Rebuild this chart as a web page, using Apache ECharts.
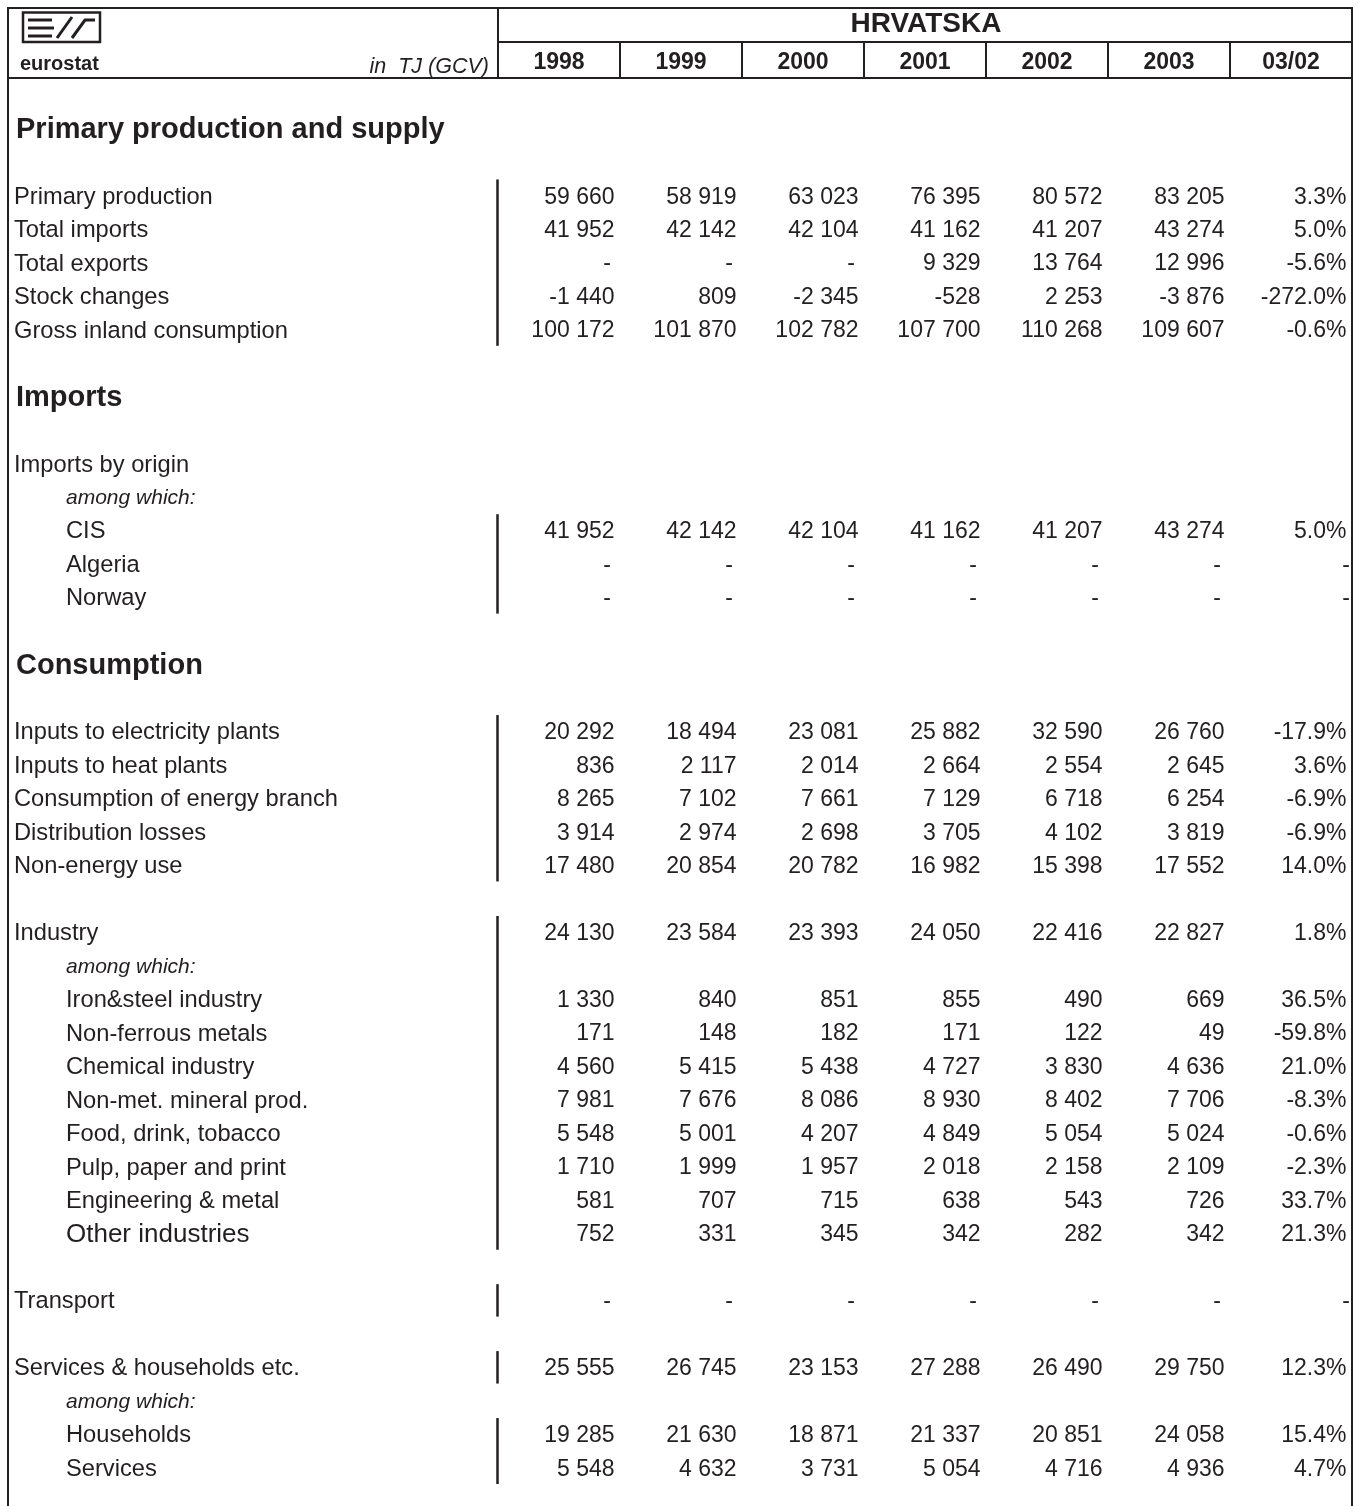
<!DOCTYPE html>
<html><head><meta charset="utf-8">
<script src="https://cdn.jsdelivr.net/npm/echarts@6/dist/echarts.min.js"></script>
<style>html,body{margin:0;padding:0;background:#fff}#c{width:1362px;height:1506px}</style>
</head><body><div id="c"></div>
<script>
// ---------------- DATA ----------------
const countryTitle = 'HRVATSKA';
const unitLabel = 'in  TJ (GCV)';
const columns = ['1998', '1999', '2000', '2001', '2002', '2003', '03/02'];

const rowLabels = [
  'Primary production and supply', '', 'Primary production', 'Total imports', 'Total exports', 'Stock changes', 'Gross inland consumption', '',
  'Imports', '', 'Imports by origin', 'among which:', 'CIS', 'Algeria', 'Norway', '',
  'Consumption', '', 'Inputs to electricity plants', 'Inputs to heat plants', 'Consumption of energy branch', 'Distribution losses', 'Non-energy use', '',
  'Industry', 'among which:', 'Iron&steel industry', 'Non-ferrous metals', 'Chemical industry', 'Non-met. mineral prod.', 'Food, drink, tobacco', 'Pulp, paper and print', 'Engineering & metal', 'Other industries', '',
  'Transport', '', 'Services & households etc.', 'among which:', 'Households', 'Services'
];

const primaryProduction  = [59660, 58919, 63023, 76395, 80572, 83205];
const totalImports       = [41952, 42142, 42104, 41162, 41207, 43274];
const totalExports       = [null, null, null, 9329, 13764, 12996];
const stockChanges       = [-1440, 809, -2345, -528, 2253, -3876];
const grossInland        = [100172, 101870, 102782, 107700, 110268, 109607];
const importsCIS         = [41952, 42142, 42104, 41162, 41207, 43274];
const importsAlgeria     = [null, null, null, null, null, null];
const importsNorway      = [null, null, null, null, null, null];
const inputsElectricity  = [20292, 18494, 23081, 25882, 32590, 26760];
const inputsHeat         = [836, 2117, 2014, 2664, 2554, 2645];
const energyBranch       = [8265, 7102, 7661, 7129, 6718, 6254];
const distributionLosses = [3914, 2974, 2698, 3705, 4102, 3819];
const nonEnergyUse       = [17480, 20854, 20782, 16982, 15398, 17552];
const industry           = [24130, 23584, 23393, 24050, 22416, 22827];
const ironSteel          = [1330, 840, 851, 855, 490, 669];
const nonFerrous         = [171, 148, 182, 171, 122, 49];
const chemical           = [4560, 5415, 5438, 4727, 3830, 4636];
const nonMetMineral      = [7981, 7676, 8086, 8930, 8402, 7706];
const foodDrink          = [5548, 5001, 4207, 4849, 5054, 5024];
const pulpPaper          = [1710, 1999, 1957, 2018, 2158, 2109];
const engineeringMetal   = [581, 707, 715, 638, 543, 726];
const otherIndustries    = [752, 331, 345, 342, 282, 342];
const transport          = [null, null, null, null, null, null];
const servicesHouseholds = [25555, 26745, 23153, 27288, 26490, 29750];
const households         = [19285, 21630, 18871, 21337, 20851, 24058];
const services           = [5548, 4632, 3731, 5054, 4716, 4936];

// 03/02 change (%), same order as dataSeries below
const change0302 = [3.3, 5.0, -5.6, -272.0, -0.6, 5.0, null, null, -17.9, 3.6, -6.9, -6.9, 14.0,
  1.8, 36.5, -59.8, 21.0, -8.3, -0.6, -2.3, 33.7, 21.3, null, 12.3, 15.4, 4.7];

const dataSeries = [primaryProduction, totalImports, totalExports, stockChanges, grossInland,
  importsCIS, importsAlgeria, importsNorway,
  inputsElectricity, inputsHeat, energyBranch, distributionLosses, nonEnergyUse,
  industry, ironSteel, nonFerrous, chemical, nonMetMineral, foodDrink, pulpPaper, engineeringMetal, otherIndustries,
  transport, servicesHouseholds, households, services];

// ---------------- LAYOUT ----------------
const dataRowIndex = [2, 3, 4, 5, 6, 12, 13, 14, 18, 19, 20, 21, 22, 24, 26, 27, 28, 29, 30, 31, 32, 33, 35, 37, 39, 40];
// 0 = plain, 1 = heading, 2 = indented, 3 = italic note, 4 = indented large
const rowLevel = rowLabels.map(function (l, i) {
  if (i === 0 || i === 8 || i === 16) return 1;
  if (l === 'among which:') return 3;
  if (l === 'Other industries') return 4;
  if ([12, 13, 14, 26, 27, 28, 29, 30, 31, 32, 39, 40].indexOf(i) >= 0) return 2;
  return 0;
});
const barSpans = [[2, 6], [12, 14], [18, 22], [24, 33], [35, 35], [37, 37], [39, 40]];

const INK = '#231f20';
const FONT = '"Liberation Sans", Arial, sans-serif';

function fmtNum(v) {
  if (v === null) return '-';
  const s = Math.abs(v).toString().replace(/\B(?=(\d{3})+(?!\d))/g, ' ');
  return (v < 0 ? '-' : '') + s;
}
function fmtPct(v) {
  if (v === null) return '-';
  return v.toFixed(1) + '%';
}

const cellData = [];
const cellTexts = [];
dataSeries.forEach(function (arr, k) {
  const r = dataRowIndex[k];
  arr.forEach(function (v, c) {
    cellData.push([c, r, v === null ? 1 : 0]);
    cellTexts.push(fmtNum(v));
  });
  const p = change0302[k];
  cellData.push([6, r, p === null ? 1 : 0]);
  cellTexts.push(fmtPct(p));
});

const labelData = [];
rowLabels.forEach(function (l, i) { if (l) labelData.push([0, i]); });

const rowIdx = rowLabels.map(function (_, i) { return String(i); });

const GRID_TOP = 113.5, GRID_H = 1372.5;

const chart = echarts.init(document.getElementById('c'), null, { renderer: 'canvas' });
chart.setOption({
  animation: false,
  backgroundColor: '#fff',
  title: {
    text: countryTitle, left: 926, top: 10, padding: 0, textAlign: 'center',
    textStyle: { fontFamily: FONT, fontSize: 28, fontWeight: 'bold', color: INK, lineHeight: 28 }
  },
  grid: [
    { left: 8, top: GRID_TOP, width: 490, height: GRID_H, show: false },
    { left: 498, top: GRID_TOP, width: 854, height: GRID_H, show: false },
    { left: 498, top: 42, width: 854, height: 36, show: true, borderColor: INK, borderWidth: 2, backgroundColor: 'transparent' }
  ],
  xAxis: [
    { gridIndex: 0, type: 'value', min: 0, max: 1, show: false },
    { gridIndex: 1, type: 'category', data: columns, show: false },
    {
      gridIndex: 2, type: 'category', data: columns, position: 'bottom',
      axisLine: { show: false }, axisTick: { show: false },
      splitLine: { show: true, interval: 0, lineStyle: { color: INK, width: 2 } },
      axisLabel: { inside: true, margin: 15, verticalAlign: 'middle', interval: 0,
        fontFamily: FONT, fontSize: 23, fontWeight: 'bold', color: INK }
    }
  ],
  yAxis: [
    { gridIndex: 0, type: 'category', data: rowIdx, inverse: true, show: false },
    { gridIndex: 1, type: 'category', data: rowIdx, inverse: true, show: false },
    { gridIndex: 2, type: 'value', show: false }
  ],
  graphic: [
    // outer frame & header rules
    { type: 'line', shape: { x1: 8, y1: 8, x2: 1352, y2: 8 }, style: { stroke: INK, lineWidth: 2 } },
    { type: 'line', shape: { x1: 8, y1: 7, x2: 8, y2: 1506 }, style: { stroke: INK, lineWidth: 2 } },
    { type: 'line', shape: { x1: 1352, y1: 7, x2: 1352, y2: 1506 }, style: { stroke: INK, lineWidth: 2 } },
    { type: 'line', shape: { x1: 8, y1: 78, x2: 1352, y2: 78 }, style: { stroke: INK, lineWidth: 2 } },
    { type: 'line', shape: { x1: 498, y1: 8, x2: 498, y2: 78 }, style: { stroke: INK, lineWidth: 2 } },
    // eurostat logo
    { type: 'rect', shape: { x: 23, y: 12.5, width: 77, height: 29.5 }, style: { fill: 'none', stroke: INK, lineWidth: 2.5 } },
    { type: 'polyline', shape: { points: [[28, 20], [52, 20]] }, style: { stroke: INK, lineWidth: 3, fill: 'none' } },
    { type: 'polyline', shape: { points: [[28, 28], [54, 28]] }, style: { stroke: INK, lineWidth: 3, fill: 'none' } },
    { type: 'polyline', shape: { points: [[28, 36], [52, 36]] }, style: { stroke: INK, lineWidth: 3, fill: 'none' } },
    { type: 'polyline', shape: { points: [[57, 38], [72, 17]] }, style: { stroke: INK, lineWidth: 3, fill: 'none' } },
    { type: 'polyline', shape: { points: [[72, 38], [85, 20], [95, 20]] }, style: { stroke: INK, lineWidth: 3, fill: 'none' } },
    { type: 'text', x: 20, y: 64, style: { text: 'eurostat', font: 'bold 20px ' + FONT, fill: INK, verticalAlign: 'middle', align: 'left' } },
    { type: 'text', x: 489, y: 67, style: { text: unitLabel, font: 'italic 21.5px ' + FONT, fill: INK, verticalAlign: 'middle', align: 'right' } }
  ],
  series: [
    {
      type: 'custom', name: 'labels', xAxisIndex: 0, yAxisIndex: 0, data: labelData, silent: true,
      renderItem: function (params, api) {
        const row = api.value(1);
        const c = api.coord([0, row]);
        const lvl = rowLevel[row];
        let indent = 6, font = '23.7px ' + FONT;
        if (lvl === 1) { indent = 8; font = 'bold 29px ' + FONT; }
        else if (lvl === 2) { indent = 58; }
        else if (lvl === 3) { indent = 58; font = 'italic 21px ' + FONT; }
        else if (lvl === 4) { indent = 58; font = '26px ' + FONT; }
        return { type: 'text', x: c[0] + indent, y: c[1],
          style: { text: rowLabels[row], font: font, fill: INK, align: 'left', verticalAlign: 'middle' } };
      }
    },
    {
      type: 'custom', name: 'cells', xAxisIndex: 1, yAxisIndex: 1, data: cellData, silent: true,
      renderItem: function (params, api) {
        const col = api.value(0), row = api.value(1), dash = api.value(2);
        const c = api.coord([col, row]);
        const sz = api.size([1, 1]);
        let pad = 5.5;
        if (dash) pad = (col === 6) ? 2 : 9;
        return { type: 'text', x: c[0] + sz[0] / 2 - pad, y: c[1],
          style: { text: cellTexts[params.dataIndex], font: '23px ' + FONT, fill: INK, align: 'right', verticalAlign: 'middle' } };
      }
    },
    {
      type: 'custom', name: 'groupBars', xAxisIndex: 1, yAxisIndex: 1, silent: true,
      data: barSpans.map(function (s) { return [0, s[0], s[1]]; }),
      renderItem: function (params, api) {
        const a = api.coord([0, api.value(1)]);
        const b = api.coord([0, api.value(2)]);
        const sz = api.size([1, 1]);
        const x = a[0] - sz[0] / 2 - 0.5;
        return { type: 'line', shape: { x1: x, y1: a[1] - sz[1] / 2 - 1, x2: x, y2: b[1] + sz[1] / 2 - 2 },
          style: { stroke: INK, lineWidth: 2.5 } };
      }
    }
  ]
});
</script>
</body></html>
